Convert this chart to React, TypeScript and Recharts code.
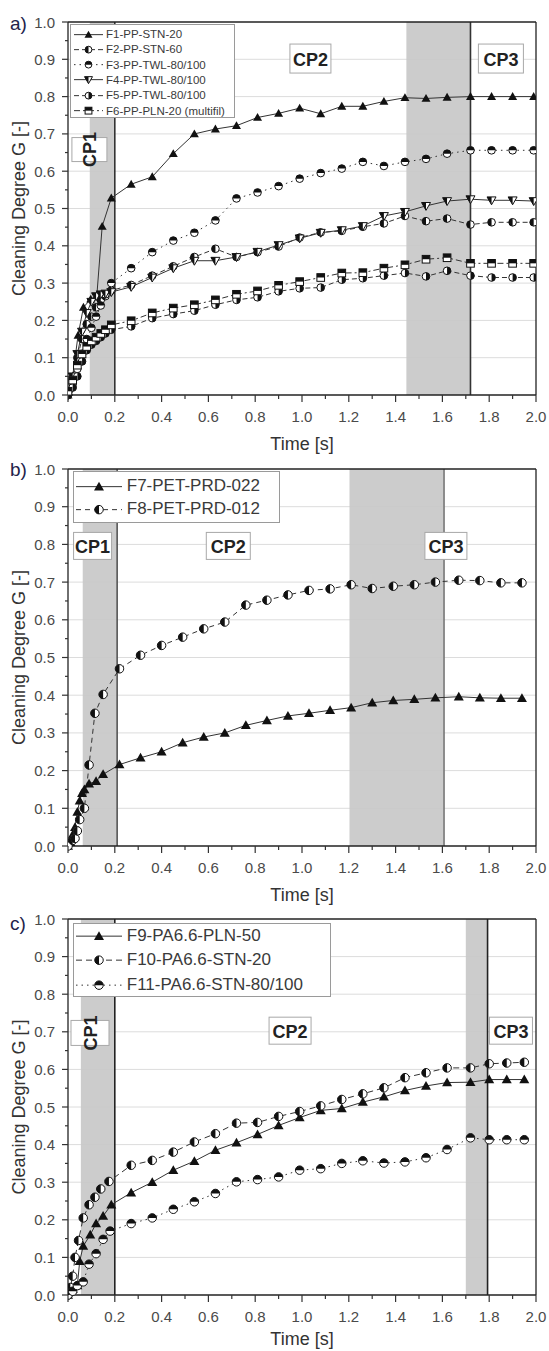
import React from 'react'
import {
  LineChart,
  Line,
  XAxis,
  YAxis,
  CartesianGrid,
  ReferenceArea,
  ReferenceLine,
  ReferenceDot,
  Legend,
} from 'recharts'

// ---------- panel a) PP filters ----------
const aEarlyTime = [0, 0.02, 0.04, 0.06, 0.08, 0.1, 0.12, 0.14, 0.16, 0.185]
const aLateTime = [0.27, 0.36, 0.45, 0.54, 0.63, 0.72, 0.81, 0.9, 0.99, 1.08, 1.17, 1.26, 1.35, 1.44, 1.53, 1.62, 1.72, 1.81, 1.9, 1.99]

const f1EarlyTime = [0, 0.02, 0.043, 0.066, 0.097, 0.123, 0.146, 0.185]
const f1Early = [0, 0.05, 0.16, 0.235, 0.257, 0.265, 0.452, 0.528]
const f1Late = [0.565, 0.585, 0.647, 0.7, 0.713, 0.722, 0.744, 0.755, 0.769, 0.754, 0.774, 0.774, 0.787, 0.797, 0.795, 0.798, 0.8, 0.8, 0.8, 0.8]

const f2Early = [0, 0.04, 0.1, 0.15, 0.19, 0.21, 0.235, 0.255, 0.265, 0.28]
const f2Late = [0.295, 0.32, 0.345, 0.37, 0.392, 0.37, 0.383, 0.398, 0.422, 0.436, 0.44, 0.451, 0.46, 0.48, 0.466, 0.473, 0.457, 0.463, 0.463, 0.463]

const f3Early = [0, 0.03, 0.07, 0.11, 0.15, 0.18, 0.21, 0.24, 0.27, 0.3]
const f3Late = [0.34, 0.383, 0.414, 0.435, 0.468, 0.527, 0.543, 0.56, 0.58, 0.595, 0.607, 0.625, 0.614, 0.625, 0.633, 0.647, 0.656, 0.656, 0.656, 0.656]

const f4Early = [0, 0.05, 0.11, 0.17, 0.22, 0.25, 0.265, 0.27, 0.272, 0.276]
const f4Late = [0.29, 0.315, 0.34, 0.36, 0.36, 0.37, 0.384, 0.402, 0.42, 0.435, 0.442, 0.453, 0.48, 0.491, 0.507, 0.52, 0.525, 0.522, 0.522, 0.52]

const f5Early = [0, 0.02, 0.05, 0.09, 0.12, 0.135, 0.145, 0.155, 0.165, 0.175]
const f5Late = [0.184, 0.206, 0.217, 0.226, 0.242, 0.255, 0.262, 0.278, 0.286, 0.288, 0.309, 0.313, 0.32, 0.327, 0.318, 0.333, 0.32, 0.315, 0.315, 0.315]

const f6Early = [0.01, 0.04, 0.08, 0.11, 0.13, 0.145, 0.155, 0.165, 0.175, 0.188]
const f6Late = [0.199, 0.22, 0.233, 0.242, 0.255, 0.27, 0.279, 0.294, 0.304, 0.315, 0.327, 0.328, 0.34, 0.349, 0.364, 0.368, 0.353, 0.353, 0.353, 0.353]

// ---------- panel b) PET filters ----------
const bLateTime = [0.22, 0.31, 0.4, 0.49, 0.58, 0.67, 0.76, 0.85, 0.94, 1.03, 1.12, 1.21, 1.3, 1.39, 1.48, 1.57, 1.67, 1.76, 1.85, 1.94]
const f7EarlyTime = [0, 0.01, 0.02, 0.03, 0.04, 0.05, 0.06, 0.07, 0.09, 0.12, 0.15]
const f7Early = [0, 0.01, 0.03, 0.05, 0.09, 0.12, 0.14, 0.15, 0.165, 0.172, 0.19]
const f7Late = [0.216, 0.234, 0.25, 0.274, 0.289, 0.3, 0.32, 0.333, 0.345, 0.352, 0.36, 0.367, 0.38, 0.386, 0.389, 0.393, 0.396, 0.393, 0.392, 0.392]
const f8EarlyTime = [0, 0.02, 0.03, 0.04, 0.05, 0.07, 0.09, 0.115, 0.15]
const f8Early = [0, 0.015, 0.02, 0.04, 0.07, 0.1, 0.215, 0.352, 0.402]
const f8Late = [0.47, 0.506, 0.532, 0.554, 0.576, 0.594, 0.639, 0.652, 0.666, 0.678, 0.682, 0.693, 0.683, 0.689, 0.693, 0.7, 0.705, 0.704, 0.698, 0.698]

// ---------- panel c) PA6.6 filters ----------
const cLateTime = [0.27, 0.36, 0.45, 0.54, 0.63, 0.72, 0.81, 0.9, 0.99, 1.08, 1.17, 1.26, 1.35, 1.44, 1.53, 1.62, 1.72, 1.8, 1.875, 1.95]
const f9EarlyTime = [0, 0.02, 0.04, 0.05, 0.065, 0.095, 0.12, 0.15, 0.185]
const f9Early = [0, 0.015, 0.025, 0.09, 0.13, 0.16, 0.19, 0.21, 0.24]
const f9Late = [0.272, 0.3, 0.332, 0.356, 0.385, 0.405, 0.427, 0.451, 0.472, 0.491, 0.496, 0.513, 0.527, 0.544, 0.556, 0.565, 0.566, 0.573, 0.573, 0.573]
const f10EarlyTime = [0, 0.01, 0.02, 0.03, 0.045, 0.065, 0.09, 0.115, 0.14, 0.175]
const f10Early = [0, 0.02, 0.05, 0.1, 0.145, 0.205, 0.24, 0.26, 0.282, 0.302]
const f10Late = [0.345, 0.358, 0.38, 0.407, 0.429, 0.457, 0.459, 0.475, 0.488, 0.503, 0.52, 0.535, 0.551, 0.578, 0.591, 0.604, 0.604, 0.615, 0.617, 0.619]
const f11EarlyTime = [0, 0.02, 0.04, 0.065, 0.09, 0.12, 0.15, 0.18]
const f11Early = [0, 0.01, 0.025, 0.035, 0.082, 0.11, 0.148, 0.17]
const f11Late = [0.19, 0.205, 0.228, 0.248, 0.27, 0.301, 0.307, 0.314, 0.332, 0.336, 0.35, 0.357, 0.351, 0.354, 0.365, 0.387, 0.418, 0.413, 0.413, 0.413]

// axis ticks
const xMajor = [0, 0.2, 0.4, 0.6, 0.8, 1.0, 1.2, 1.4, 1.6, 1.8, 2.0]
const xMinor = [0.1, 0.3, 0.5, 0.7, 0.9, 1.1, 1.3, 1.5, 1.7, 1.9]
const yMajor = [0, 0.1, 0.2, 0.3, 0.4, 0.5, 0.6, 0.7, 0.8, 0.9, 1.0]
const yMinor = [0.05, 0.15, 0.25, 0.35, 0.45, 0.55, 0.65, 0.75, 0.85, 0.95]

const FONT = '"Liberation Sans", Arial, Helvetica, sans-serif'
const INK = '#111'

const pts = (t: number[], v: number[]) => t.map((x, i) => ({ x, y: v[i] }))

type Shape = 'triUp' | 'triDown' | 'circL' | 'circR' | 'circT' | 'square'

interface Series {
  name: string
  data: { x: number; y: number }[]
  dash?: string
  shape: Shape
}

function Marker({ cx, cy, shape, size }: { cx: number; cy: number; shape: Shape; size: number }) {
  const r = size / 2
  if (shape === 'triUp') {
    return <polygon points={`${cx},${cy - r} ${cx + r},${cy + r * 0.75} ${cx - r},${cy + r * 0.75}`} fill={INK} />
  }
  if (shape === 'triDown') {
    return (
      <g>
        <polygon points={`${cx - r},${cy - r * 0.75} ${cx + r},${cy - r * 0.75} ${cx},${cy + r}`} fill="#fff" stroke={INK} strokeWidth={1} />
        <polygon points={`${cx - r},${cy - r * 0.75} ${cx},${cy - r * 0.75} ${cx},${cy + r}`} fill={INK} />
      </g>
    )
  }
  if (shape === 'square') {
    const h = r * 0.85
    return (
      <g>
        <rect x={cx - h} y={cy - h} width={h * 2} height={h * 2} fill="#fff" stroke={INK} strokeWidth={1} />
        <rect x={cx - h} y={cy - h} width={h * 2} height={h} fill={INK} />
      </g>
    )
  }
  const rr = r * 0.85
  const half =
    shape === 'circL'
      ? `M${cx},${cy - rr} A${rr},${rr} 0 0 0 ${cx},${cy + rr} Z`
      : shape === 'circR'
        ? `M${cx},${cy - rr} A${rr},${rr} 0 0 1 ${cx},${cy + rr} Z`
        : `M${cx - rr},${cy} A${rr},${rr} 0 0 1 ${cx + rr},${cy} Z`
  return (
    <g>
      <circle cx={cx} cy={cy} r={rr} fill="#fff" stroke={INK} strokeWidth={1} />
      <path d={half} fill={INK} />
    </g>
  )
}

const panelA: Series[] = [
  { name: 'F1-PP-STN-20', data: pts([...f1EarlyTime, ...aLateTime], [...f1Early, ...f1Late]), shape: 'triUp' },
  { name: 'F2-PP-STN-60', data: pts([...aEarlyTime, ...aLateTime], [...f2Early, ...f2Late]), dash: '5 3', shape: 'circL' },
  { name: 'F3-PP-TWL-80/100', data: pts([...aEarlyTime, ...aLateTime], [...f3Early, ...f3Late]), dash: '1.5 4', shape: 'circT' },
  { name: 'F4-PP-TWL-80/100', data: pts([...aEarlyTime, ...aLateTime], [...f4Early, ...f4Late]), shape: 'triDown' },
  { name: 'F5-PP-TWL-80/100', data: pts([...aEarlyTime, ...aLateTime], [...f5Early, ...f5Late]), dash: '5 3', shape: 'circR' },
  { name: 'F6-PP-PLN-20 (multifil)', data: pts([...aEarlyTime, ...aLateTime], [...f6Early, ...f6Late]), dash: '6 3 2 3', shape: 'square' },
]

const panelB: Series[] = [
  { name: 'F7-PET-PRD-022', data: pts([...f7EarlyTime, ...bLateTime], [...f7Early, ...f7Late]), shape: 'triUp' },
  { name: 'F8-PET-PRD-012', data: pts([...f8EarlyTime, ...bLateTime], [...f8Early, ...f8Late]), dash: '5 4', shape: 'circL' },
]

const panelC: Series[] = [
  { name: 'F9-PA6.6-PLN-50', data: pts([...f9EarlyTime, ...cLateTime], [...f9Early, ...f9Late]), shape: 'triUp' },
  { name: 'F10-PA6.6-STN-20', data: pts([...f10EarlyTime, ...cLateTime], [...f10Early, ...f10Late]), dash: '6 4', shape: 'circL' },
  { name: 'F11-PA6.6-STN-80/100', data: pts([...f11EarlyTime, ...cLateTime], [...f11Early, ...f11Late]), dash: '1.5 4', shape: 'circT' },
]

interface CpLabel {
  text: string
  x: number
  y: number
  w: number
  h: number
  rotate?: boolean
}

interface LegendLayout {
  left: number
  top: number
  width: number
  height: number
  rowH: number
  padTop: number
  padLeft: number
  symW: number
  gap: number
  fontSize: number
  marker: number
}

interface PanelProps {
  letter: string
  top: number
  height: number
  plotTop: number
  plotBottom: number
  titleGap: number
  series: Series[]
  bands: [number, number][]
  lines: { x: number; color: string }[]
  cps: CpLabel[]
  legend: LegendLayout
  marker: number
  letterBaseline: number
}

function XTick(props: any) {
  const { x, y, payload } = props
  const v = payload.value as number
  const major = xMajor.some((m) => Math.abs(m - v) < 1e-6)
  return (
    <g>
      <line x1={x} x2={x} y1={y} y2={y + (major ? 7 : 4)} stroke="#333" strokeWidth={1.2} />
      {major && (
        <text x={x} y={y + 21.5} textAnchor="middle" dominantBaseline="central" fill="#4a4a4a" fontSize={15} fontFamily={FONT}>
          {v.toFixed(1)}
        </text>
      )}
    </g>
  )
}

function YTick(props: any) {
  const { x, y, payload } = props
  const v = payload.value as number
  const major = yMajor.some((m) => Math.abs(m - v) < 1e-6)
  return (
    <g>
      <line x1={x} x2={x - (major ? 6 : 3)} y1={y} y2={y} stroke="#333" strokeWidth={1.2} />
      {major && (
        <text x={x - 13} y={y} textAnchor="end" dominantBaseline="central" fill="#4a4a4a" fontSize={15} fontFamily={FONT}>
          {v.toFixed(1)}
        </text>
      )}
    </g>
  )
}

function LegendBox({ series, lg }: { series: Series[]; lg: LegendLayout }) {
  return (
    <div
      style={{
        width: lg.width,
        height: lg.height,
        boxSizing: 'border-box',
        border: '1px solid #9a9a9a',
        background: '#fff',
        paddingTop: lg.padTop,
        paddingLeft: lg.padLeft,
        fontFamily: FONT,
        fontSize: lg.fontSize,
        color: '#3a3a3a',
      }}
    >
      {series.map((s) => (
        <div key={s.name} style={{ display: 'flex', alignItems: 'center', height: lg.rowH, whiteSpace: 'nowrap' }}>
          <svg width={lg.symW} height={lg.rowH} style={{ flex: 'none' }}>
            <line x1={0} x2={lg.symW} y1={lg.rowH / 2} y2={lg.rowH / 2} stroke="#333" strokeWidth={1} strokeDasharray={s.dash} />
            <Marker cx={lg.symW / 2} cy={lg.rowH / 2} shape={s.shape} size={lg.marker} />
          </svg>
          <span style={{ marginLeft: lg.gap }}>{s.name}</span>
        </div>
      ))}
    </div>
  )
}

function Panel(p: PanelProps) {
  const plotLeft = 68
  const plotRight = 536
  const xAxisH = 40
  const chartH = p.height + 20
  const midY = (p.plotTop + p.plotBottom) / 2
  return (
    <div style={{ position: 'absolute', left: 0, top: p.top, width: 549, height: chartH }}>
      <LineChart
        width={549}
        height={chartH}
        margin={{ top: p.plotTop, right: 549 - plotRight, bottom: chartH - p.plotBottom - xAxisH, left: plotLeft - 60 }}
        style={{ fontFamily: FONT }}
      >
        <CartesianGrid vertical={false} horizontalValues={yMajor.slice(1, -1)} stroke="#dcdcdc" strokeWidth={1} />
        {p.bands.map(([a, b], i) => (
          <ReferenceArea key={`band${i}`} x1={a} x2={b} fill="#c8c8c8" fillOpacity={0.92} stroke="none" />
        ))}
        <XAxis
          type="number"
          dataKey="x"
          domain={[0, 2]}
          ticks={[...xMajor, ...xMinor]}
          interval={0}
          height={xAxisH}
          tickSize={0}
          tickMargin={0}
          tick={(t: any) => <XTick {...t} />}
          axisLine={{ stroke: '#222', strokeWidth: 1.3 }}
          allowDataOverflow
          label={{
            content: () => (
              <text x={(plotLeft + plotRight) / 2} y={p.plotBottom + p.titleGap} textAnchor="middle" dominantBaseline="central" fontSize={18} fill="#333" fontFamily={FONT}>
                Time [s]
              </text>
            ),
          }}
        />
        <YAxis
          type="number"
          domain={[0, 1]}
          ticks={[...yMajor, ...yMinor]}
          interval={0}
          width={60}
          tickSize={0}
          tickMargin={0}
          tick={(t: any) => <YTick {...t} />}
          axisLine={{ stroke: '#222', strokeWidth: 1.3 }}
          label={{
            content: () => (
              <text x={19} y={midY} transform={`rotate(-90 19 ${midY})`} textAnchor="middle" dominantBaseline="central" fontSize={18} fill="#333" fontFamily={FONT}>
                Cleaning Degree G [-]
              </text>
            ),
          }}
        />
        {p.lines.map((l, i) => (
          <ReferenceLine key={`vl${i}`} x={l.x} stroke={l.color} strokeWidth={1.6} />
        ))}
        <ReferenceLine y={1} stroke="#222" strokeWidth={1.3} />
        <ReferenceLine x={2} stroke="#222" strokeWidth={1.3} />
        {p.series.map((s) => (
          <Line
            key={s.name}
            data={s.data}
            dataKey="y"
            name={s.name}
            type="linear"
            stroke="#333"
            strokeWidth={1}
            strokeDasharray={s.dash}
            isAnimationActive={false}
            dot={(d: any) =>
              d.cx == null || Number.isNaN(d.cx) ? <g key={`n${d.index}`} /> : (
                <Marker key={`${s.name}-${d.index}`} cx={d.cx} cy={d.cy} shape={s.shape} size={p.marker} />
              )
            }
          />
        ))}
        {p.cps.map((c) => (
          <ReferenceDot
            key={c.text}
            x={c.x}
            y={c.y}
            r={0}
            shape={(d: any) => (
              <g transform={c.rotate ? `rotate(-90 ${d.cx} ${d.cy})` : undefined}>
                <rect
                  x={d.cx - (c.rotate ? c.h : c.w) / 2}
                  y={d.cy - (c.rotate ? c.w : c.h) / 2}
                  width={c.rotate ? c.h : c.w}
                  height={c.rotate ? c.w : c.h}
                  fill="#fff"
                  stroke="#a8a8a8"
                  strokeWidth={1}
                />
                <text x={d.cx} y={d.cy + 1} textAnchor="middle" dominantBaseline="central" fontWeight="bold" fontSize={18} fill="#222" fontFamily={FONT}>
                  {c.text}
                </text>
              </g>
            )}
          />
        ))}
        <Legend
          layout="horizontal"
          verticalAlign="middle"
          align="center"
          wrapperStyle={{ left: p.legend.left, top: p.legend.top, width: p.legend.width, height: p.legend.height }}
          content={() => <LegendBox series={p.series} lg={p.legend} />}
        />
      </LineChart>
      <div
        style={{
          position: 'absolute',
          left: 10,
          top: p.letterBaseline - 17,
          fontFamily: FONT,
          fontSize: 19,
          lineHeight: '19px',
          color: '#23234a',
        }}
      >
        {p.letter}
      </div>
    </div>
  )
}

export default function App() {
  return (
    <div style={{ position: 'absolute', left: 0, top: 0, width: 549, height: 1351, background: '#fff', overflow: 'hidden' }}>
      <Panel
        letter="a)"
        top={0}
        height={450}
        plotTop={22}
        plotBottom={395}
        titleGap={49}
        series={panelA}
        bands={[[0.093, 0.2], [1.446, 1.72]]}
        lines={[{ x: 0.2, color: '#333' }, { x: 1.72, color: '#333' }]}
        cps={[
          { text: 'CP1', x: 0.0915, y: 0.658, w: 35, h: 24, rotate: true },
          { text: 'CP2', x: 1.036, y: 0.902, w: 41, h: 29 },
          { text: 'CP3', x: 1.85, y: 0.902, w: 45, h: 29 },
        ]}
        legend={{ left: 70, top: 24, width: 165, height: 94, rowH: 15.3, padTop: 1.5, padLeft: 2.5, symW: 29, gap: 3.5, fontSize: 11.5, marker: 8 }}
        marker={9}
        letterBaseline={31}
      />
      <Panel
        letter="b)"
        top={450}
        height={450}
        plotTop={19}
        plotBottom={396}
        titleGap={49}
        series={panelB}
        bands={[[0.063, 0.21], [1.203, 1.607]]}
        lines={[{ x: 0.21, color: '#555' }, { x: 1.607, color: '#777' }]}
        cps={[
          { text: 'CP1', x: 0.105, y: 0.796, w: 38, h: 27 },
          { text: 'CP2', x: 0.685, y: 0.796, w: 44, h: 27 },
          { text: 'CP3', x: 1.615, y: 0.796, w: 42, h: 27 },
        ]}
        legend={{ left: 72.6, top: 21, width: 207, height: 52, rowH: 23.3, padTop: 2.5, padLeft: 2.4, symW: 46, gap: 4.8, fontSize: 17, marker: 10 }}
        marker={10}
        letterBaseline={27}
      />
      <Panel
        letter="c)"
        top={900}
        height={451}
        plotTop={19}
        plotBottom={395}
        titleGap={44}
        series={panelC}
        bands={[[0.055, 0.2], [1.7, 1.793]]}
        lines={[{ x: 0.2, color: '#222' }, { x: 1.793, color: '#222' }]}
        cps={[
          { text: 'CP1', x: 0.094, y: 0.697, w: 38, h: 25, rotate: true },
          { text: 'CP2', x: 0.949, y: 0.703, w: 42, h: 27 },
          { text: 'CP3', x: 1.893, y: 0.703, w: 43, h: 27 },
        ]}
        legend={{ left: 72.6, top: 22.5, width: 258, height: 74.5, rowH: 24.3, padTop: 0.5, padLeft: 2.4, symW: 46, gap: 4.8, fontSize: 17, marker: 10 }}
        marker={10}
        letterBaseline={31}
      />
    </div>
  )
}
